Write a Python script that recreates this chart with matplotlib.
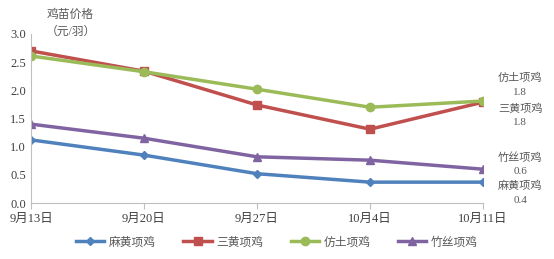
import matplotlib.pyplot as plt

plt.rcParams['font.family'] = ['Liberation Serif', 'Noto Sans CJK SC']

# data
dates = ['9月13日', '9月20日', '9月27日', '10月4日', '10月11日']
mahuang = [1.12, 0.85, 0.52, 0.37, 0.37]
sanhuang = [2.70, 2.34, 1.74, 1.31, 1.79]
fangtu = [2.61, 2.33, 2.02, 1.70, 1.81]
zhusi = [1.40, 1.15, 0.82, 0.76, 0.60]

names = ['麻黄项鸡', '三黄项鸡', '仿土项鸡', '竹丝项鸡']
series = [mahuang, sanhuang, fangtu, zhusi]
colors = ['#4F81BD', '#C0504D', '#9BBB59', '#8064A2']
markers = ['D', 's', 'o', '^']
msizes = [4, 6, 6, 6]
end_labels = ['0.4', '1.8', '1.8', '0.6']
label_y = [0.18, 1.56, 2.10, 0.69]

fig = plt.figure(figsize=(5.54, 2.59), dpi=100)
ax = fig.add_axes([31 / 554, 1 - 203 / 259, (483 - 31) / 554, (203 - 34) / 259])

x = list(range(len(dates)))
for name, vals, c, m, ms in zip(names, series, colors, markers, msizes):
    ax.plot(x, vals, color=c, marker=m, markersize=ms, linewidth=2.5, label=name)

ax.set_xlim(0, len(dates) - 1)
ax.set_ylim(0, 3.0)
ax.set_yticks([0, 0.5, 1.0, 1.5, 2.0, 2.5, 3.0])
ax.set_yticklabels(['0.0', '0.5', '1.0', '1.5', '2.0', '2.5', '3.0'])
ax.set_xticks(x)
ax.set_xticklabels(dates)
for s in ['top', 'right']:
    ax.spines[s].set_visible(False)
for s in ['left', 'bottom']:
    ax.spines[s].set_color('#BFBFBF')
ax.tick_params(axis='both', colors='#BFBFBF', labelcolor='#404040', labelsize=9, length=4)
ax.tick_params(axis='y', length=0)

ax.text(0.35, 3.45, '鸡苗价格\n（元/羽）', fontsize=8.5, color='#595959',
        ha='center', va='top', linespacing=1.6, clip_on=False)

for name, lab, ly in zip(names, end_labels, label_y):
    ax.text(4.33, ly, name + '\n' + lab, fontsize=8, color='#595959',
            ha='center', va='center', linespacing=1.6, clip_on=False)

fig.legend(loc='lower center', bbox_to_anchor=(0.5, 0.0), ncol=4, frameon=False,
           fontsize=8.5, labelcolor='#595959', handlelength=2.4, handletextpad=0.4,
           columnspacing=2.3)

plt.savefig('out.png', dpi=100)
